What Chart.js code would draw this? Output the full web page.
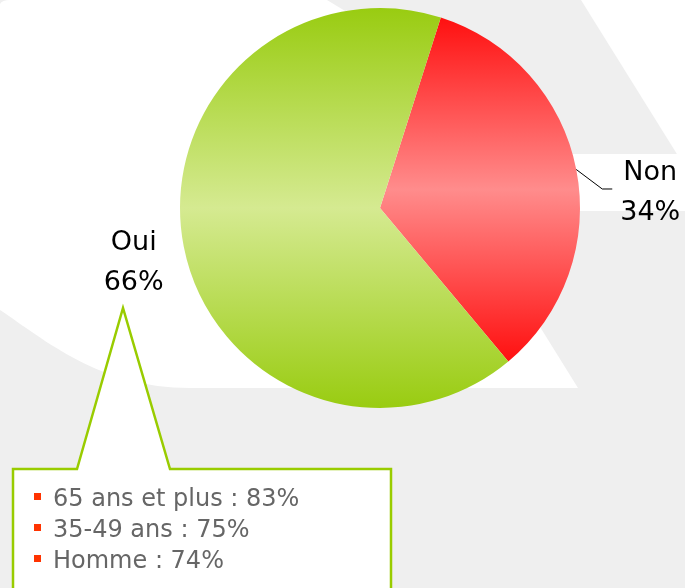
<!DOCTYPE html>
<html>
<head>
<meta charset="utf-8">
<script src="https://cdn.jsdelivr.net/npm/chart.js@4/dist/chart.umd.min.js"></script>
<style>
    html, body { margin: 0; padding: 0; background: #efefef; }
    #graficoOui { display: block; }
</style>
</head>
<body>
<canvas id="graficoOui" width="685" height="588"></canvas>
<script>
// donnees
var categories = ['Non', 'Oui'];
var valeurs = [34, 66];
var couleursBord = ['rgb(255,16,16)', 'rgb(153,204,17)'];
var couleursMilieu = ['rgb(255,140,140)', 'rgb(213,234,145)'];

var detailsLibelles = ['65 ans et plus', '35-49 ans', 'Homme'];
var detailsValeurs = [83, 75, 74];

var rotationDepart = 17.7;
var policeTexte = '"DejaVu Sans", Verdana, sans-serif';

function somme(tab, n) {
    var s = 0;
    for (var i = 0; i < n; i++) {
        s += tab[i];
    }
    return s;
}

function contientAngle(a0, a1, t) {
    return (t >= a0 && t <= a1) || (t + 360 >= a0 && t + 360 <= a1);
}

// degrade vertical sur la hauteur de chaque part
function degradePart(context) {
    var chart = context.chart;
    var area = chart.chartArea;
    if (!area) {
        return couleursBord[context.dataIndex];
    }
    var i = context.dataIndex;
    var cx = (area.left + area.right) / 2;
    var cy = (area.top + area.bottom) / 2;
    var r = Math.min(area.right - area.left, area.bottom - area.top) / 2;
    var total = somme(valeurs, valeurs.length);
    var a0 = rotationDepart + 360 * somme(valeurs, i) / total;
    var a1 = a0 + 360 * valeurs[i] / total;
    var ys = [cy, cy - r * Math.cos(a0 * Math.PI / 180), cy - r * Math.cos(a1 * Math.PI / 180)];
    if (contientAngle(a0, a1, 0)) ys.push(cy - r);
    if (contientAngle(a0, a1, 180)) ys.push(cy + r);
    var haut = Math.min.apply(null, ys);
    var bas = Math.max.apply(null, ys);
    var g = chart.ctx.createLinearGradient(0, haut, 0, bas);
    g.addColorStop(0, couleursBord[i]);
    g.addColorStop(0.5, couleursMilieu[i]);
    g.addColorStop(1, couleursBord[i]);
    return g;
}

var fondPlugin = {
    id: 'fond',
    beforeDraw: function (chart) {
        var ctx = chart.ctx;
        ctx.save();
        ctx.fillStyle = '#efefef';
        ctx.fillRect(0, 0, chart.width, chart.height);

        ctx.fillStyle = '#ffffff';
        ctx.beginPath();
        ctx.moveTo(0, 4);
        ctx.quadraticCurveTo(2, 0, 10, 0);
        ctx.lineTo(327, 0);
        ctx.lineTo(360, 20);
        ctx.lineTo(450, 154);
        ctx.lineTo(685, 154);
        ctx.lineTo(685, 211);
        ctx.lineTo(468, 211);
        ctx.lineTo(578, 388);
        ctx.lineTo(190, 388);
        ctx.bezierCurveTo(100, 388, 45, 340, 0, 310);
        ctx.closePath();
        ctx.fill();

        ctx.beginPath();
        ctx.moveTo(581, 0);
        ctx.lineTo(685, 0);
        ctx.lineTo(685, 167);
        ctx.closePath();
        ctx.fill();
        ctx.restore();
    }
};

var etiquettesPlugin = {
    id: 'etiquettes',
    afterDatasetsDraw: function (chart) {
        var ctx = chart.ctx;
        var meta = chart.getDatasetMeta(0);
        ctx.save();
        ctx.font = '27px ' + policeTexte;
        ctx.fillStyle = '#000000';
        ctx.textAlign = 'center';
        ctx.textBaseline = 'alphabetic';

        for (var i in meta.data) {
            var arc = meta.data[i];
            var mid = (arc.startAngle + arc.endAngle) / 2;
            var pct = Math.round(valeurs[i] / somme(valeurs, valeurs.length) * 100) + '%';

            if (categories[i] === 'Non') {
                var x0 = arc.x + Math.cos(mid) * arc.outerRadius;
                var y0 = arc.y + Math.sin(mid) * arc.outerRadius;
                ctx.strokeStyle = '#000000';
                ctx.lineWidth = 1;
                ctx.beginPath();
                ctx.moveTo(x0, y0);
                ctx.lineTo(x0 + 26, y0 + 19.5);
                ctx.lineTo(x0 + 36, y0 + 19.5);
                ctx.stroke();
                ctx.fillText(categories[i], x0 + 74, y0 + 10.5);
                ctx.fillText(pct, x0 + 74, y0 + 50.5);
            } else {
                var d = arc.outerRadius + 51;
                var px = arc.x + Math.cos(mid) * d;
                var py = arc.y + Math.sin(mid) * d;
                ctx.fillText(categories[i], px, py - 6);
                ctx.fillText(pct, px, py + 34);
            }
        }
        ctx.restore();
    },
    afterDraw: function (chart) {
        var ctx = chart.ctx;
        ctx.save();
        // bulle de commentaire
        ctx.beginPath();
        ctx.moveTo(13, 469);
        ctx.lineTo(77, 469);
        ctx.lineTo(123, 308);
        ctx.lineTo(170, 469);
        ctx.lineTo(391, 469);
        ctx.lineTo(391, 600);
        ctx.lineTo(13, 600);
        ctx.closePath();
        ctx.fillStyle = '#ffffff';
        ctx.fill();
        ctx.strokeStyle = '#99cc00';
        ctx.lineWidth = 2.5;
        ctx.lineJoin = 'miter';
        ctx.stroke();

        ctx.font = '24px ' + policeTexte;
        ctx.textAlign = 'left';
        ctx.textBaseline = 'alphabetic';
        for (var i = 0; i < detailsLibelles.length; i++) {
            var base = 506 + i * 31;
            ctx.fillStyle = '#ff3300';
            ctx.fillRect(34, base - 13, 7, 7);
            ctx.fillStyle = '#666666';
            ctx.fillText(detailsLibelles[i] + ' : ' + detailsValeurs[i] + '%', 53, base);
        }
        ctx.restore();
    }
};

var chartdata = {
    labels: categories,
    datasets: [
        {
            data: valeurs,
            backgroundColor: degradePart,
            borderWidth: 0,
            hoverOffset: 0
        }
    ]
};

var graphTarget = document.getElementById('graficoOui');

var pieGraph = new Chart(graphTarget, {
    type: 'pie',
    data: chartdata,
    options: {
        responsive: false,
        animation: false,
        rotation: rotationDepart,
        layout: {
            padding: { left: 180, right: 105, top: 8, bottom: 180 }
        },
        plugins: {
            legend: { display: false },
            tooltip: { enabled: false }
        }
    },
    plugins: [fondPlugin, etiquettesPlugin]
});
</script>
</body>
</html>
